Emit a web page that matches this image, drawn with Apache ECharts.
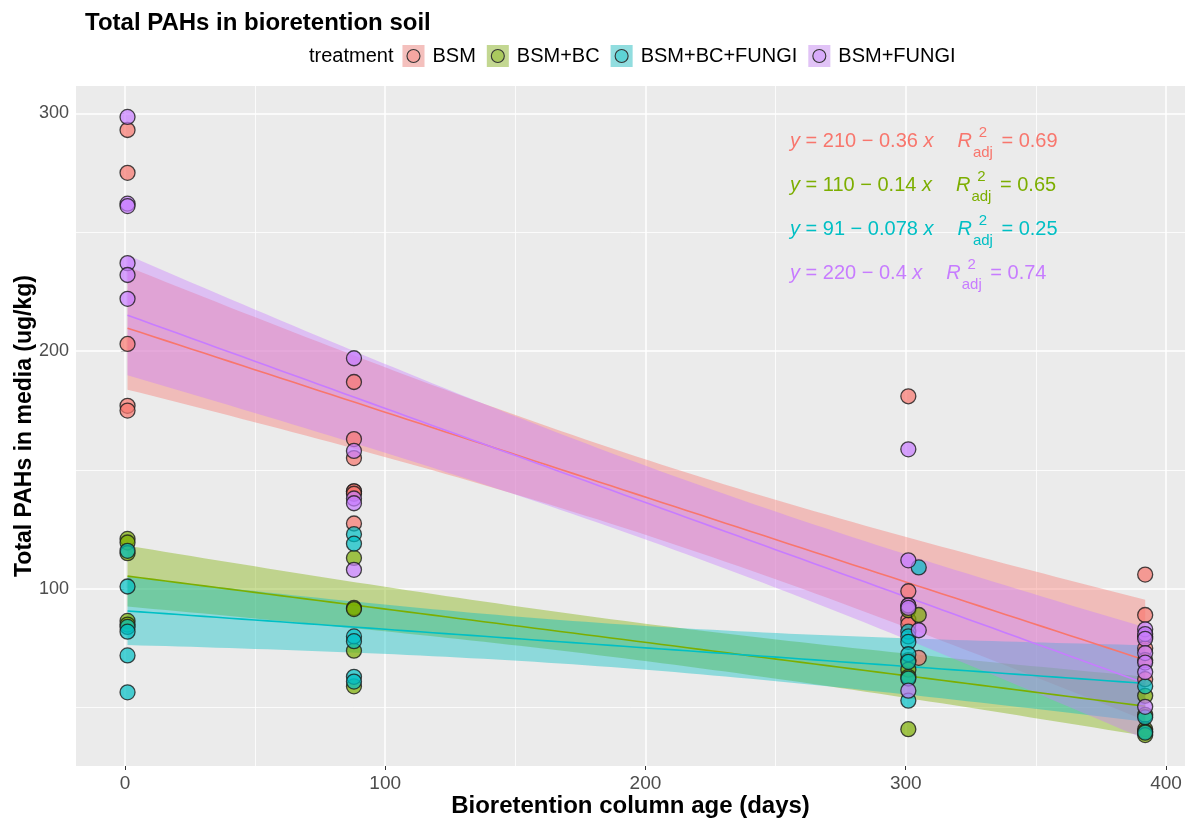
<!DOCTYPE html>
<html>
<head>
<meta charset="utf-8">
<title>Total PAHs in bioretention soil</title>
<script src="https://cdn.jsdelivr.net/npm/echarts@6.0.0/dist/echarts.min.js"></script>
<style>
html, body { margin: 0; padding: 0; background: #ffffff; }
#chart { width: 1189px; height: 823px; }
</style>
</head>
<body>
<div id="chart"></div>
<script>
// Treatments, in legend order
const treatments = ['BSM', 'BSM+BC', 'BSM+BC+FUNGI', 'BSM+FUNGI'];

// Measurements: [column age (days), total PAHs (ug/kg)]
const bsm = [
  [1, 293], [1, 275], [1, 203], [1, 177], [1, 175],
  [88, 187], [88, 163], [88, 155], [88, 141], [88, 141], [88, 140], [88, 127.5],
  [301, 181], [301, 99], [301, 93], [301, 87], [301, 85],
  [305, 71],
  [392, 106], [392, 89], [392, 80], [392, 75], [392, 70], [392, 62]
];
const bsmBc = [
  [1, 121], [1, 119.5], [1, 115], [1, 86.5], [1, 85],
  [88, 113], [88, 92], [88, 91.5], [88, 74], [88, 59],
  [301, 91], [301, 70], [301, 66], [301, 63], [301, 41],
  [305, 89],
  [392, 55], [392, 47], [392, 41], [392, 40], [392, 38.5]
];
const bsmBcFungi = [
  [1, 116], [1, 101], [1, 84], [1, 82], [1, 72], [1, 56.5],
  [88, 123], [88, 119], [88, 80], [88, 78], [88, 63], [88, 61],
  [301, 82], [301, 80], [301, 77.7], [301, 72.5], [301, 69.3], [301, 62.3], [301, 53],
  [305, 109],
  [392, 59], [392, 46], [392, 39.5]
];
const bsmFungi = [
  [1, 298.5], [1, 262], [1, 261], [1, 237], [1, 232], [1, 222],
  [88, 197], [88, 158], [88, 138], [88, 136], [88, 108],
  [301, 158.7], [301, 112], [301, 93], [301, 92], [301, 57.2],
  [305, 82.6],
  [392, 83], [392, 81], [392, 79], [392, 73], [392, 69], [392, 65], [392, 50.4]
];

// Linear fit per treatment (y = a + b x) and adjusted R squared
const fitIntercept = [210, 105.5, 90.8, 215.5];
const fitSlope = [-0.357, -0.14, -0.078, -0.396];
const r2Adj = ['0.69', '0.65', '0.25', '0.74'];

// Axis ticks and grid
const xTicks = [0, 100, 200, 300, 400];
const xMinorTicks = [50, 150, 250, 350];
const yTicks = [100, 200, 300];
const yMinorTicks = [50, 150, 250];

const palette = ['#F8766D', '#7CAE00', '#00BFC4', '#C77CFF'];
const groups = [bsm, bsmBc, bsmBcFungi, bsmFungi];
const FONT = '"Liberation Sans", Arial, Helvetica, sans-serif';

function rgba(hex, a) {
  const n = parseInt(hex.slice(1), 16);
  return `rgba(${(n >> 16) & 255},${(n >> 8) & 255},${n & 255},${a})`;
}

// two-sided 95% Student t quantile (Cornish-Fisher expansion)
function tQuantile975(df) {
  const z = 1.959964;
  const z3 = z * z * z, z5 = z3 * z * z, z7 = z5 * z * z;
  return z + (z3 + z) / (4 * df) +
    (5 * z5 + 16 * z3 + 3 * z) / (96 * df * df) +
    (3 * z7 + 19 * z5 + 17 * z3 - 15 * z) / (384 * df * df * df);
}

// fitted line and 95% confidence band of the mean response
function fitWithBand(points, a, b, steps) {
  const n = points.length;
  const xs = points.map(p => p[0]);
  const xbar = xs.reduce((s, v) => s + v, 0) / n;
  const sxx = xs.reduce((s, v) => s + (v - xbar) * (v - xbar), 0);
  const sse = points.reduce((s, p) => s + Math.pow(p[1] - (a + b * p[0]), 2), 0);
  const se = Math.sqrt(sse / (n - 2));
  const t = tQuantile975(n - 2);
  const x0 = Math.min(...xs), x1 = Math.max(...xs);
  const band = [], line = [];
  for (let k = 0; k <= steps; k++) {
    const x = x0 + (x1 - x0) * k / steps;
    const fit = a + b * x;
    const h = t * se * Math.sqrt(1 / n + (x - xbar) * (x - xbar) / sxx);
    band.push([x, fit - h, fit + h]);
    line.push([x, fit]);
  }
  return { band, line };
}

function signif2(v) { return String(Number(Number(v).toPrecision(2))); }

const measureCtx = document.createElement('canvas').getContext('2d');
function textWidth(str, size, style, weight) {
  measureCtx.font = `${style || 'normal'} ${weight || 'normal'} ${size}px ${FONT}`;
  return measureCtx.measureText(str).width;
}

const series = [];

// panel grid lines (kept beneath ribbons, lines and points)
series.push({
  type: 'line',
  data: [],
  silent: true,
  z: 1,
  markLine: {
    silent: true,
    z: 1,
    symbol: ['none', 'none'],
    label: { show: false },
    animation: false,
    data: []
      .concat(xMinorTicks.map(v => ({ xAxis: v, lineStyle: { color: '#ffffff', width: 0.8, type: 'solid' } })))
      .concat(yMinorTicks.map(v => ({ yAxis: v, lineStyle: { color: '#ffffff', width: 0.8, type: 'solid' } })))
      .concat(xTicks.map(v => ({ xAxis: v, lineStyle: { color: '#ffffff', width: 1.5, type: 'solid' } })))
      .concat(yTicks.map(v => ({ yAxis: v, lineStyle: { color: '#ffffff', width: 1.5, type: 'solid' } })))
  }
});

// confidence ribbons and fitted lines
groups.forEach((pts, i) => {
  const fit = fitWithBand(pts, fitIntercept[i], fitSlope[i], 80);
  const band = fit.band;
  series.push({
    type: 'custom',
    name: treatments[i],
    silent: true,
    z: 3,
    data: band,
    encode: { x: 0, y: [1, 2] },
    renderItem: (params, api) => {
      if (params.dataIndex !== 0) return null;
      const upper = band.map(d => api.coord([d[0], d[2]]));
      const lower = band.map(d => api.coord([d[0], d[1]])).reverse();
      return {
        type: 'polygon',
        shape: { points: upper.concat(lower) },
        style: { fill: rgba(palette[i], 0.4) }
      };
    }
  });
  series.push({
    type: 'line',
    name: treatments[i],
    data: fit.line,
    showSymbol: false,
    silent: true,
    z: 3,
    lineStyle: { color: palette[i], width: 1.6 }
  });
});

// observations
groups.forEach((pts, i) => {
  series.push({
    type: 'scatter',
    name: treatments[i],
    data: pts,
    z: 4,
    symbol: 'circle',
    symbolSize: 15,
    itemStyle: { color: rgba(palette[i], 0.88), borderColor: '#1a1a1a', borderWidth: 1.3 }
  });
});

// regression equations
const graphics = [];
treatments.forEach((name, i) => {
  const cy = 141 + 44 * i;
  const left = 790;
  const fs = 20, small = 15;
  const col = palette[i];
  const a = signif2(fitIntercept[i]);
  const b = signif2(Math.abs(fitSlope[i]));
  const sign = fitSlope[i] < 0 ? '\u2212' : '+';
  const mid = ` = ${a} ${sign} ${b} `;
  const wEq = textWidth('y', fs, 'italic') + textWidth(mid, fs) + textWidth('x', fs, 'italic');
  graphics.push({
    type: 'text', x: left, y: cy, silent: true, z: 10,
    style: {
      text: `{it|y}${mid}{it|x}`,
      fill: col, fontSize: fs, fontFamily: FONT, verticalAlign: 'middle', align: 'left',
      rich: { it: { fill: col, fontSize: fs, fontFamily: FONT, fontStyle: 'italic' } }
    }
  });
  const rx = left + wEq + 24;
  const wR = textWidth('R', fs, 'italic');
  const wAdj = textWidth('adj', small);
  graphics.push({ type: 'text', x: rx, y: cy, silent: true, z: 10,
    style: { text: 'R', fill: col, fontSize: fs, fontFamily: FONT, fontStyle: 'italic', verticalAlign: 'middle', align: 'left' } });
  graphics.push({ type: 'text', x: rx + wR + 1 + wAdj / 2, y: cy - 8, silent: true, z: 10,
    style: { text: '2', fill: col, fontSize: small, fontFamily: FONT, verticalAlign: 'middle', align: 'center' } });
  graphics.push({ type: 'text', x: rx + wR + 1, y: cy + 12, silent: true, z: 10,
    style: { text: 'adj', fill: col, fontSize: small, fontFamily: FONT, verticalAlign: 'middle', align: 'left' } });
  graphics.push({ type: 'text', x: rx + wR + 4 + wAdj, y: cy, silent: true, z: 10,
    style: { text: ' = ' + r2Adj[i], fill: col, fontSize: fs, fontFamily: FONT, verticalAlign: 'middle', align: 'left' } });
});

// legend: title, keys (ribbon fill + point) and labels
(function () {
  const cy = 56, fs = 20, key = 22;
  const titleLeft = 309;
  graphics.push({ type: 'text', x: titleLeft, y: cy, silent: true,
    style: { text: 'treatment', fill: '#000', fontSize: fs, fontFamily: FONT, verticalAlign: 'middle', align: 'left' } });
  let kx = titleLeft + textWidth('treatment', fs) + 9;
  treatments.forEach((name, i) => {
    graphics.push({ type: 'rect', silent: true, shape: { x: kx, y: cy - key / 2, width: key, height: key },
      style: { fill: '#F2F2F2' } });
    graphics.push({ type: 'rect', silent: true, shape: { x: kx, y: cy - key / 2, width: key, height: key },
      style: { fill: rgba(palette[i], 0.4) } });
    graphics.push({ type: 'circle', silent: true, shape: { cx: kx + key / 2, cy: cy, r: 6.5 },
      style: { fill: rgba(palette[i], 0.35), stroke: '#333', lineWidth: 1.1 } });
    const lx = kx + key + 8;
    graphics.push({ type: 'text', x: lx, y: cy, silent: true,
      style: { text: name, fill: '#000', fontSize: fs, fontFamily: FONT, verticalAlign: 'middle', align: 'left' } });
    kx = lx + textWidth(name, fs) + 11;
  });
})();

const chart = echarts.init(document.getElementById('chart'), null, { renderer: 'canvas' });
chart.setOption({
  animation: false,
  backgroundColor: '#ffffff',
  title: {
    text: 'Total PAHs in bioretention soil',
    left: 80, top: 6,
    textStyle: { fontSize: 24, fontWeight: 'bold', color: '#000', fontFamily: FONT }
  },
  grid: {
    left: 76, right: 4, top: 86, bottom: 57,
    outerBoundsMode: 'none',
    show: true, backgroundColor: '#EBEBEB', borderWidth: 0
  },
  xAxis: {
    type: 'value', min: -18.8, max: 407.3,
    name: 'Bioretention column age (days)',
    nameLocation: 'middle', nameGap: 28,
    nameMoveOverlap: false,
    nameTextStyle: { fontSize: 24, fontWeight: 'bold', color: '#000', fontFamily: FONT },
    axisLine: { show: false },
    axisTick: { show: true, customValues: xTicks, length: 4, lineStyle: { color: '#333', width: 1 } },
    axisLabel: { customValues: xTicks, color: '#4D4D4D', fontSize: 19, margin: 8, fontFamily: FONT },
    splitLine: { show: false }
  },
  yAxis: {
    type: 'value', min: 25.5, max: 311.5,
    name: 'Total PAHs in media (ug/kg)',
    nameLocation: 'middle', nameGap: 40,
    nameMoveOverlap: false,
    nameTextStyle: { fontSize: 23, fontWeight: 'bold', color: '#000', fontFamily: FONT, verticalAlign: 'bottom' },
    axisLine: { show: false },
    axisTick: { show: true, customValues: yTicks, length: 4, lineStyle: { color: '#333', width: 1 } },
    axisLabel: { customValues: yTicks, color: '#4D4D4D', fontSize: 18, margin: 7, fontFamily: FONT },
    splitLine: { show: false }
  },
  graphic: { elements: graphics },
  series: series
});
</script>
</body>
</html>
